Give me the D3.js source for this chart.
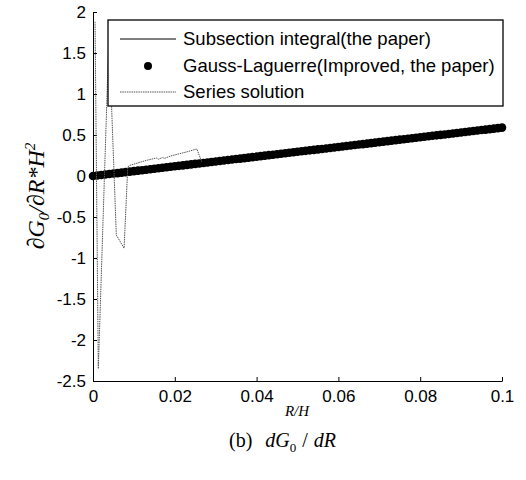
<!DOCTYPE html>
<html>
<head>
<meta charset="utf-8">
<script src="https://cdn.jsdelivr.net/npm/d3@7/dist/d3.min.js"></script>
<style>
body { margin: 0; background: #fff; }
</style>
</head>
<body>
<svg id="chart" width="526" height="480"></svg>
<script>
// axis ticks
const xTicks = [0, 0.02, 0.04, 0.06, 0.08, 0.1];
const yTicks = [-2.5, -2, -1.5, -1, -0.5, 0, 0.5, 1, 1.5, 2];

const legendLabels = ["Subsection integral(the paper)", "Gauss-Laguerre(Improved, the paper)", "Series solution"];

// Subsection integral (solid line, lies under the dots)
const subX = [0, 0.01, 0.02, 0.03, 0.04, 0.05, 0.06, 0.07, 0.08, 0.09, 0.1];
const subY = [0, 0.059, 0.118, 0.177, 0.236, 0.295, 0.354, 0.413, 0.472, 0.531, 0.59];

// Gauss-Laguerre (dots)
const gaussX = [0, 0.001, 0.002, 0.003, 0.004, 0.005, 0.006, 0.007, 0.008, 0.009,
  0.010, 0.011, 0.012, 0.013, 0.014, 0.015, 0.016, 0.017, 0.018, 0.019,
  0.020, 0.021, 0.022, 0.023, 0.024, 0.025, 0.026, 0.027, 0.028, 0.029,
  0.030, 0.031, 0.032, 0.033, 0.034, 0.035, 0.036, 0.037, 0.038, 0.039,
  0.040, 0.041, 0.042, 0.043, 0.044, 0.045, 0.046, 0.047, 0.048, 0.049,
  0.050, 0.051, 0.052, 0.053, 0.054, 0.055, 0.056, 0.057, 0.058, 0.059,
  0.060, 0.061, 0.062, 0.063, 0.064, 0.065, 0.066, 0.067, 0.068, 0.069,
  0.070, 0.071, 0.072, 0.073, 0.074, 0.075, 0.076, 0.077, 0.078, 0.079,
  0.080, 0.081, 0.082, 0.083, 0.084, 0.085, 0.086, 0.087, 0.088, 0.089,
  0.090, 0.091, 0.092, 0.093, 0.094, 0.095, 0.096, 0.097, 0.098, 0.099, 0.100];
const gaussY = [0.000, 0.006, 0.012, 0.018, 0.024, 0.030, 0.035, 0.041, 0.047, 0.053,
  0.059, 0.065, 0.071, 0.077, 0.083, 0.089, 0.094, 0.100, 0.106, 0.112,
  0.118, 0.124, 0.130, 0.136, 0.142, 0.148, 0.153, 0.159, 0.165, 0.171,
  0.177, 0.183, 0.189, 0.195, 0.201, 0.207, 0.212, 0.218, 0.224, 0.230,
  0.236, 0.242, 0.248, 0.254, 0.260, 0.266, 0.271, 0.277, 0.283, 0.289,
  0.295, 0.301, 0.307, 0.313, 0.319, 0.325, 0.330, 0.336, 0.342, 0.348,
  0.354, 0.360, 0.366, 0.372, 0.378, 0.384, 0.389, 0.395, 0.401, 0.407,
  0.413, 0.419, 0.425, 0.431, 0.437, 0.443, 0.448, 0.454, 0.460, 0.466,
  0.472, 0.478, 0.484, 0.490, 0.496, 0.502, 0.507, 0.513, 0.519, 0.525,
  0.531, 0.537, 0.543, 0.549, 0.555, 0.561, 0.566, 0.572, 0.578, 0.584, 0.590];

// Series solution (dotted grey)
const seriesX = [0.0005, 0.0013, 0.0039, 0.0057, 0.0076, 0.0085, 0.009, 0.011, 0.013, 0.0155,
  0.016, 0.017, 0.0175, 0.019, 0.021, 0.023, 0.0254, 0.0266];
const seriesY = [1.88, -2.35, 1.72, -0.72, -0.88, 0.11, 0.13, 0.16, 0.19, 0.22,
  0.205, 0.225, 0.215, 0.245, 0.27, 0.295, 0.33, 0.17];

const margin = {top: 12, left: 93};
const w = 409, h = 369;

const svg = d3.select("#chart");
const g = svg.append("g").attr("transform", `translate(${margin.left},${margin.top})`);

const x = d3.scaleLinear().domain([0, 0.1]).range([0, w]);
const y = d3.scaleLinear().domain([-2.5, 2]).range([h, 0]);

// axes (MATLAB style: ticks inward, box off)
const axeX = d3.axisBottom(x).tickValues(xTicks).tickFormat(d => String(d))
  .tickSizeInner(-4).tickSizeOuter(0).tickPadding(9);
const axeY = d3.axisLeft(y).tickValues(yTicks).tickFormat(d => String(d))
  .tickSizeInner(-4).tickSizeOuter(0).tickPadding(7);

const gx = g.append("g").attr("transform", `translate(0,${h})`).call(axeX);
const gy = g.append("g").call(axeY);
[gx, gy].forEach(a => {
  a.selectAll("path, line").attr("stroke", "#000").attr("stroke-width", 1);
  a.selectAll("text").attr("fill", "#000")
    .style("font-family", "Liberation Sans, Arial, sans-serif").style("font-size", "17px");
});

// lines
const lineSub = d3.line().x((d, i) => x(subX[i])).y(d => y(d));
g.append("path").datum(subY).attr("d", lineSub)
  .attr("fill", "none").attr("stroke", "#000").attr("stroke-width", 1);

g.selectAll("circle.gauss").data(gaussY).join("circle")
  .attr("class", "gauss")
  .attr("cx", (d, i) => x(gaussX[i])).attr("cy", d => y(d)).attr("r", 4.3)
  .attr("fill", "#000");

const lineSeries = d3.line().x((d, i) => x(seriesX[i])).y(d => y(d));
g.append("path").datum(seriesY).attr("d", lineSeries)
  .attr("fill", "none").attr("stroke", "#555").attr("stroke-width", 1)
  .attr("stroke-dasharray", "1.5,0.8");

// legend
const leg = svg.append("g").attr("transform", "translate(108,20)");
leg.append("rect").attr("width", 395).attr("height", 86)
  .attr("fill", "#fff").attr("stroke", "#000").attr("stroke-width", 1.3);
const rowY = [19, 46, 72];
legendLabels.forEach((lab, i) => {
  const r = leg.append("g").attr("transform", `translate(0,${rowY[i]})`);
  if (i === 0) {
    r.append("line").attr("x1", 12).attr("x2", 68).attr("stroke", "#000").attr("stroke-width", 1);
  } else if (i === 1) {
    r.append("circle").attr("cx", 40).attr("r", 4).attr("fill", "#000");
  } else {
    r.append("line").attr("x1", 12).attr("x2", 68).attr("stroke", "#555")
      .attr("stroke-width", 1).attr("stroke-dasharray", "1.5,0.8");
  }
  r.append("text").attr("x", 75).attr("dy", "0.35em").text(lab)
    .style("font-family", "Liberation Sans, Arial, sans-serif").style("font-size", "18.5px");
});

// axis titles
const yl = svg.append("text")
  .attr("transform", "translate(44,196) rotate(-90)")
  .attr("text-anchor", "middle")
  .style("font-family", "Liberation Serif, Times New Roman, serif")
  .style("font-style", "italic").style("font-size", "24px");
yl.append("tspan").text("∂G");
yl.append("tspan").attr("dy", 5).style("font-size", "15px").text("0");
yl.append("tspan").attr("dy", -5).text("/∂R*H");
yl.append("tspan").attr("dy", -9).style("font-size", "15px").text("2");

svg.append("text").attr("x", 297).attr("y", 416).attr("text-anchor", "middle")
  .style("font-family", "Liberation Serif, Times New Roman, serif")
  .style("font-style", "italic").style("font-size", "15px").text("R/H");

const cap = svg.append("text").attr("x", 229).attr("y", 447)
  .style("font-family", "Liberation Serif, Times New Roman, serif").style("font-size", "20px");
cap.append("tspan").text("(b)");
cap.append("tspan").attr("dx", 13).style("font-style", "italic").text("dG");
cap.append("tspan").attr("dy", 5).style("font-size", "13px").text("0");
cap.append("tspan").attr("dy", -5).attr("dx", 6).text("/");
cap.append("tspan").attr("dx", 6).style("font-style", "italic").text("dR");
</script>
</body>
</html>
